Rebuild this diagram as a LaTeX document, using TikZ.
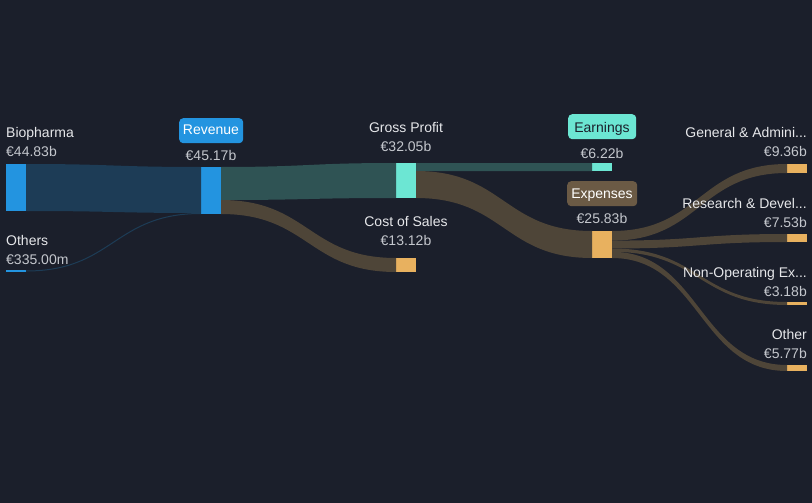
\documentclass[tikz,border=0pt]{standalone}
\usepackage{fontspec}
\setmainfont{Liberation Sans}
\usetikzlibrary{calc}
\definecolor{bg}{HTML}{1B1F2B}
\definecolor{barblue}{HTML}{2394E0}
\definecolor{barteal}{HTML}{6CE6D3}
\definecolor{barorange}{HTML}{E8B15F}
\definecolor{flowblue}{HTML}{1D3C56}
\definecolor{flowteal}{HTML}{2F5354}
\definecolor{flowbrown}{HTML}{4E4538}
\definecolor{boxbrown}{HTML}{6B5A45}
\definecolor{labtext}{HTML}{E6E7EA}
\definecolor{valtext}{HTML}{C4C7CD}
\definecolor{darktext}{HTML}{1B1F2B}
\newcommand{\sflow}[5]{%
  \fill[#1] let \p1=#2, \p2=#3, \p3=#4, \p4=#5, \n1={(\x1+\x3)/2} in
    (\p1) .. controls (\n1,\y1) and (\n1,\y3) .. (\p3) -- (\p4)
    .. controls (\n1,\y4) and (\n1,\y2) .. (\p2) -- cycle;}
\begin{document}
\begin{tikzpicture}[x=1pt,y=-1pt,
  bar/.style={inner sep=0pt,outer sep=0pt,anchor=north west,minimum width=20pt},
  lab/.style={font=\fontsize{14}{16}\selectfont,text=labtext,inner sep=0pt},
  val/.style={font=\fontsize{14}{16}\selectfont,text=valtext,inner sep=0pt},
  tagbox/.style={rounded corners=4pt,inner sep=0pt,minimum height=25pt,anchor=north west}]
\fill[bg] (0,0) rectangle (812,503);
\useasboundingbox (0,0) rectangle (812,503);

% bars
\node[bar,fill=barblue,minimum height=47pt] (bio) at (6,164) {};
\node[bar,fill=barblue,minimum height=2pt] (oth) at (6,270) {};
\node[bar,fill=barblue,minimum height=47pt] (rev) at (201,167) {};
\node[bar,fill=barteal,minimum height=35pt] (gp) at (396,163) {};
\node[bar,fill=barorange,minimum height=14pt] (cos) at (396,258) {};
\node[bar,fill=barteal,minimum height=8pt] (earn) at (592,163) {};
\node[bar,fill=barorange,minimum height=27pt] (exp) at (592,231) {};
\node[bar,fill=barorange,minimum height=9pt] (ga) at (787,164) {};
\node[bar,fill=barorange,minimum height=8pt] (rd) at (787,234) {};
\node[bar,fill=barorange,minimum height=3pt] (nop) at (787,302) {};
\node[bar,fill=barorange,minimum height=6pt] (oex) at (787,365) {};

% flows
\sflow{flowblue}{(bio.north east)}{(bio.south east)}{(rev.north west)}{([yshift=1pt]rev.south west)}
\draw[flowblue,line width=1pt] let \p1=(oth.east), \p2=([yshift=0.5pt]rev.south west), \n1={(\x1+\x2)/2} in
  (\p1) .. controls (\n1,\y1) and (\n1,\y2) .. (\p2);
\sflow{flowteal}{(rev.north east)}{([yshift=-33pt]rev.north east)}{(gp.north west)}{(gp.south west)}
\sflow{flowbrown}{([yshift=-33pt]rev.north east)}{(rev.south east)}{(cos.north west)}{(cos.south west)}
\sflow{flowteal}{(gp.north east)}{([yshift=-8pt]gp.north east)}{(earn.north west)}{(earn.south west)}
\sflow{flowbrown}{([yshift=-8pt]gp.north east)}{(gp.south east)}{(exp.north west)}{(exp.south west)}
\sflow{flowbrown}{(exp.north east)}{([yshift=-9.6pt]exp.north east)}{(ga.north west)}{(ga.south west)}
\sflow{flowbrown}{([yshift=-9.6pt]exp.north east)}{([yshift=-17.5pt]exp.north east)}{(rd.north west)}{(rd.south west)}
\sflow{flowbrown}{([yshift=-17.5pt]exp.north east)}{([yshift=-20.8pt]exp.north east)}{(nop.north west)}{(nop.south west)}
\sflow{flowbrown}{([yshift=-20.8pt]exp.north east)}{(exp.south east)}{(oex.north west)}{(oex.south west)}

% tag boxes
\node[tagbox,fill=barblue,minimum width=64pt] (revbox) at (179,118) {};
\node[lab,anchor=base,text=white] (revlab) at (211,135) {Revenue};
\node[tagbox,fill=barteal,minimum width=68pt] (earnbox) at (568,114) {};
\node[lab,anchor=base,text=darktext] (earnlab) at (602,132) {Earnings};
\node[tagbox,fill=boxbrown,minimum width=70pt] (expbox) at (567,181) {};
\node[lab,anchor=base,text=white] (explab) at (602,198) {Expenses};

% labels and values
\node[lab,anchor=base west] (biolab) at (6,138) {Biopharma};
\node[val,anchor=base west] (bioval) at (6,157) {€44.83b};
\node[lab,anchor=base west] (othlab) at (6,245) {Others};
\node[val,anchor=base west] (othval) at (6,264) {€335.00m};
\node[val,anchor=base] (revval) at (211,160) {€45.17b};
\node[lab,anchor=base] (gplab) at (406,132) {Gross Profit};
\node[val,anchor=base] (gpval) at (406,151) {€32.05b};
\node[lab,anchor=base] (coslab) at (406,226) {Cost of Sales};
\node[val,anchor=base] (cosval) at (406,245) {€13.12b};
\node[val,anchor=base] (earnval) at (602,158) {€6.22b};
\node[val,anchor=base] (expval) at (602,223) {€25.83b};
\node[lab,anchor=base east] (galab) at (807,138) {General \& Admini...};
\node[val,anchor=base east] (gaval) at (807,157) {€9.36b};
\node[lab,anchor=base east] (rdlab) at (807,208) {Research \& Devel...};
\node[val,anchor=base east] (rdval) at (807,227) {€7.53b};
\node[lab,anchor=base east] (noplab) at (807,277) {Non-Operating Ex...};
\node[val,anchor=base east] (nopval) at (807,296) {€3.18b};
\node[lab,anchor=base east] (oexlab) at (807,339) {Other};
\node[val,anchor=base east] (oexval) at (807,358) {€5.77b};
\end{tikzpicture}
\end{document}
